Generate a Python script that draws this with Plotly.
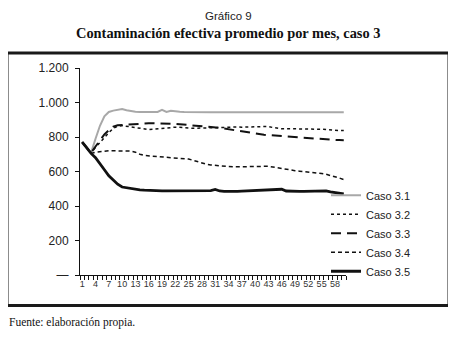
import plotly.graph_objects as go

months = list(range(1, 61))
x_tick_vals = list(range(1, 61, 3))
x_tick_text = [str(v) for v in x_tick_vals]
y_tick_vals = [0, 200, 400, 600, 800, 1000, 1200]
y_tick_text = ["—", "200", "400", "600", "800", "1.000", "1.200"]

caso_3_1 = [770, 738, 708, 790, 865, 920, 945, 953, 958, 962,
            955, 950, 947, 945, 944, 943, 942, 945, 957, 945,
            952, 948, 946, 945, 944, 943, 943, 943, 943, 943,
            943, 943, 943, 943, 943, 943, 943, 943, 943, 943,
            943, 943, 943, 943, 943, 943, 943, 943, 943, 943,
            943, 943, 943, 943, 943, 943, 943, 943, 943, 943]
caso_3_2 = [770, 738, 708, 740, 770, 800, 825, 850, 862, 866,
            862, 858, 852, 850, 848, 843, 845, 848, 850, 852,
            854, 857, 856, 853, 851, 850, 851, 852, 852, 853,
            855, 857, 858, 860, 860, 858, 857, 857, 858, 858,
            859, 860, 861, 855, 850, 848, 848, 848, 848, 848,
            848, 848, 847, 846, 845, 843, 840, 838, 837, 837]
caso_3_3 = [770, 738, 708, 745, 780, 815, 840, 860, 868, 870,
            872, 875, 878, 880, 880, 880, 880, 880, 880, 880,
            878, 876, 874, 872, 870, 867, 864, 862, 860, 858,
            856, 853, 849, 845, 840, 835, 830, 826, 822, 819,
            816, 813, 811, 809, 807, 804, 802, 801, 800, 798,
            795, 792, 790, 788, 786, 785, 784, 783, 782, 781]
caso_3_4 = [770, 738, 705, 712, 716, 718, 720, 720, 720, 720,
            719, 718, 712, 700, 693, 690, 688, 686, 684, 682,
            680, 678, 676, 674, 672, 665, 656, 648, 642, 638,
            635, 632, 630, 629, 628, 627, 627, 628, 629, 630,
            630, 630, 630, 626, 621, 617, 612, 608, 605, 602,
            600, 598, 595, 592, 588, 584, 578, 572, 562, 553]
caso_3_5 = [770, 738, 705, 680, 648, 610, 575, 548, 526, 510,
            505, 500, 497, 494, 492, 490, 489, 488, 488, 488,
            488, 488, 488, 488, 488, 488, 489, 490, 490, 489,
            496, 487, 485, 484, 484, 485, 486, 487, 488, 489,
            490, 490, 490, 491, 493, 497, 487, 485, 485, 485,
            485, 485, 486, 487, 487, 488, 482, 478, 474, 470]

series = [
    ("Caso 3.1", caso_3_1, dict(color="#a8a8a8", width=2, dash="solid")),
    ("Caso 3.2", caso_3_2, dict(color="#111111", width=1.5, dash="dot")),
    ("Caso 3.3", caso_3_3, dict(color="#111111", width=2, dash="10px,6px")),
    ("Caso 3.4", caso_3_4, dict(color="#111111", width=1.5, dash="4px,3px")),
    ("Caso 3.5", caso_3_5, dict(color="#111111", width=2.8, dash="solid")),
]

fig = go.Figure()
for name, vals, line in series:
    fig.add_trace(go.Scatter(x=months, y=vals, name=name, mode="lines", line=line))

# page body has an 8px margin: lay out in page pixels, shifted by OFF
OFF = 8
W, H = 456 - OFF, 337 - OFF
PL, PR, PT, PB = 80, 346, 68, 275.5          # plot area in page pixels
L, T = PL - OFF, PT - OFF
R, B = W - (PR - OFF), H - (PB - OFF)
pw, ph = W - L - R, H - T - B

def px(x):
    return (x - OFF - L) / pw

def py(y):
    return (H - B - (y - OFF)) / ph

fig.update_layout(
    width=W, height=H,
    margin=dict(l=L, r=R, t=T, b=B, pad=0),
    paper_bgcolor="white", plot_bgcolor="white",
    font=dict(family="Liberation Sans, Arial, sans-serif", color="#222222"),
    showlegend=True,
    legend=dict(x=px(326), y=py(181), xanchor="left", yanchor="top",
                font=dict(size=11, color="#222222"), bgcolor="rgba(0,0,0,0)",
                itemwidth=30, tracegroupgap=0),
    xaxis=dict(range=[0.5, 60.5], tickmode="array", tickvals=x_tick_vals, ticktext=x_tick_text,
               ticks="", showline=True, linecolor="#111111", linewidth=1,
               showgrid=False, zeroline=False, tickfont=dict(size=9, color="#333333"),
               minor=dict(tick0=0.5, dtick=1, ticks="outside", ticklen=4, tickcolor="#111111", showgrid=False)),
    yaxis=dict(range=[0, 1200], tickmode="array", tickvals=y_tick_vals, ticktext=y_tick_text,
               ticks="outside", ticklen=4, tickcolor="#111111", showline=True, linecolor="#111111",
               linewidth=1, showgrid=False, zeroline=False, tickfont=dict(size=12, color="#222222"),
               ticklabelstandoff=4),
    shapes=[dict(type="rect", xref="paper", yref="paper",
                 x0=px(7), x1=px(449), y0=py(306), y1=py(53),
                 line=dict(color="#1a1a1a", width=3), fillcolor="rgba(0,0,0,0)", layer="below")],
    annotations=[
        dict(text="Gráfico 9", xref="paper", yref="paper", x=px(228), y=py(8.5),
             xanchor="center", yanchor="top", showarrow=False, borderpad=0,
             font=dict(family="Liberation Sans, Arial, sans-serif", size=11.5, color="#222222")),
        dict(text="<b>Contaminación efectiva promedio por mes, caso 3</b>", xref="paper", yref="paper",
             x=px(228), y=py(33), xanchor="center", yanchor="middle", showarrow=False,
             font=dict(family="Liberation Serif, Times New Roman, serif", size=14.4, color="#111111")),
        dict(text="Fuente: elaboración propia.", xref="paper", yref="paper", x=px(7), y=py(323),
             xanchor="left", yanchor="middle", showarrow=False,
             font=dict(family="Liberation Serif, Times New Roman, serif", size=11.5, color="#111111")),
    ],
)

fig.write_html("out.html")
